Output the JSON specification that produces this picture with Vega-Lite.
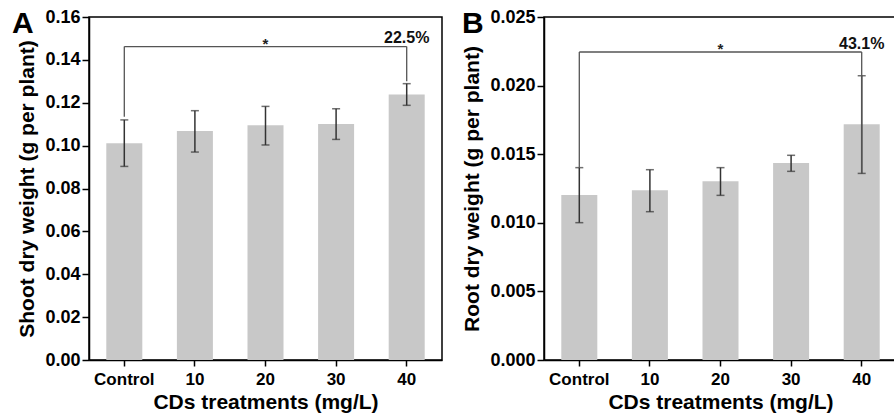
{
  "$schema": "https://vega.github.io/schema/vega-lite/v6.json",
  "padding": {"left": 11, "top": 7, "right": 0, "bottom": 0},
  "spacing": 18,
  "background": "white",
  "config": {
    "font": "Liberation Sans",
    "view": {"stroke": "#000", "strokeWidth": 1.5},
    "axis": {
      "domainColor": "#000", "domainWidth": 1.5, "tickColor": "#000", "tickWidth": 1.5,
      "labelFont": "Liberation Sans", "labelFontSize": 17, "labelFontWeight": "bold", "labelColor": "#000",
      "titleFont": "Liberation Sans", "titleFontSize": 21, "titleFontWeight": "bold", "titleColor": "#000",
      "grid": false, "labelPadding": 2
    },
    "title": {"font": "Liberation Sans", "fontSize": 30, "fontWeight": "bold", "color": "#000", "anchor": "start", "frame": "group", "baseline": "alphabetic"}
  },
  "hconcat": [
    {
      "width": 353, "height": 343,
      "title": {"text": "A", "dx": -77, "offset": -31},
      "data": {"values": [
        {"t": "Control", "m": 0.1011, "lo": 0.0903, "hi": 0.1120},
        {"t": "10", "m": 0.1068, "lo": 0.0970, "hi": 0.1163},
        {"t": "20", "m": 0.1095, "lo": 0.1003, "hi": 0.1183},
        {"t": "30", "m": 0.1101, "lo": 0.1029, "hi": 0.1172},
        {"t": "40", "m": 0.1238, "lo": 0.1188, "hi": 0.1289}
      ]},
      "encoding": {
        "x": {"field": "t", "type": "nominal",
          "scale": {"domain": ["Control","10","20","30","40"], "paddingInner": 0.49, "paddingOuter": 0.245},
          "axis": {"title": "CDs treatments (mg/L)", "labelAngle": 0, "tickSize": 6, "labelPadding": 5, "titlePadding": 4}}
      },
      "layer": [
        {"mark": {"type": "bar", "color": "#c8c8c8"},
         "encoding": {"y": {"field": "m", "type": "quantitative",
           "scale": {"domain": [0, 0.16], "nice": false},
           "axis": {"title": "Shoot dry weight (g per plant)", "values": [0,0.01,0.02,0.03,0.04,0.05,0.06,0.07,0.08,0.09,0.1,0.11,0.12,0.13,0.14,0.15,0.16],
             "labelExpr": "round(datum.value*100) % 2 === 0 ? format(datum.value, '.2f') : ''",
             "labelFontSize": 18,
             "tickSize": {"condition": {"test": "round(datum.value*100) % 2 === 0", "value": 7}, "value": 3},
             "titlePadding": 7}}}},
        {"mark": {"type": "rule", "color": "#333", "strokeWidth": 1.5},
         "encoding": {"y": {"field": "lo", "type": "quantitative"}, "y2": {"field": "hi"}}},
        {"mark": {"type": "tick", "color": "#333", "thickness": 1.5, "size": 8},
         "encoding": {"y": {"field": "lo", "type": "quantitative"}}},
        {"mark": {"type": "tick", "color": "#333", "thickness": 1.5, "size": 8},
         "encoding": {"y": {"field": "hi", "type": "quantitative"}}},
        {"data": {"values": [
          {"a": "Control", "b": "40", "y": 0.1462, "y2": 0.1462},
          {"a": "Control", "b": "Control", "y": 0.1462, "y2": 0.1135},
          {"a": "40", "b": "40", "y": 0.1462, "y2": 0.1300}
         ]},
         "mark": {"type": "rule", "color": "#555", "strokeWidth": 1.3},
         "encoding": {"x": {"field": "a", "type": "nominal"}, "x2": {"field": "b"},
           "y": {"field": "y", "type": "quantitative"}, "y2": {"field": "y2"}}},
        {"data": {"values": [
          {"a": "20", "y": 0.1462, "s": "*"}
         ]},
         "mark": {"type": "text", "fontSize": 15, "fontWeight": "bold", "baseline": "alphabetic", "dy": 2, "color": "#222"},
         "encoding": {"x": {"field": "a", "type": "nominal"}, "y": {"field": "y", "type": "quantitative"}, "text": {"field": "s"}}},
        {"data": {"values": [
          {"a": "40", "y": 0.1502, "s": "22.5%"}
         ]},
         "mark": {"type": "text", "fontSize": 16, "fontWeight": "bold", "baseline": "middle", "color": "#111"},
         "encoding": {"x": {"field": "a", "type": "nominal"}, "y": {"field": "y", "type": "quantitative"}, "text": {"field": "s"}}}
      ]
    },
    {
      "width": 353, "height": 343,
      "title": {"text": "B", "dx": -82, "offset": -31},
      "data": {"values": [
        {"t": "Control", "m": 0.01203, "lo": 0.01001, "hi": 0.01402},
        {"t": "10", "m": 0.01237, "lo": 0.01081, "hi": 0.01387},
        {"t": "20", "m": 0.01302, "lo": 0.0120, "hi": 0.01402},
        {"t": "30", "m": 0.01436, "lo": 0.01375, "hi": 0.01492},
        {"t": "40", "m": 0.01718, "lo": 0.0136, "hi": 0.02072}
      ]},
      "encoding": {
        "x": {"field": "t", "type": "nominal",
          "scale": {"domain": ["Control","10","20","30","40"], "paddingInner": 0.49, "paddingOuter": 0.245},
          "axis": {"title": "CDs treatments (mg/L)", "labelAngle": 0, "tickSize": 6, "labelPadding": 5, "titlePadding": 4}}
      },
      "layer": [
        {"mark": {"type": "bar", "color": "#c8c8c8"},
         "encoding": {"y": {"field": "m", "type": "quantitative",
           "scale": {"domain": [0, 0.025], "nice": false},
           "axis": {"title": "Root dry weight (g per plant)", "values": [0,0.0025,0.005,0.0075,0.01,0.0125,0.015,0.0175,0.02,0.0225,0.025],
             "labelExpr": "round(datum.value*10000) % 50 === 0 ? format(datum.value, '.3f') : ''",
             "labelFontSize": 18,
             "tickSize": {"condition": {"test": "round(datum.value*10000) % 50 === 0", "value": 7}, "value": 3},
             "titlePadding": 7}}}},
        {"mark": {"type": "rule", "color": "#333", "strokeWidth": 1.5},
         "encoding": {"y": {"field": "lo", "type": "quantitative"}, "y2": {"field": "hi"}}},
        {"mark": {"type": "tick", "color": "#333", "thickness": 1.5, "size": 8},
         "encoding": {"y": {"field": "lo", "type": "quantitative"}}},
        {"mark": {"type": "tick", "color": "#333", "thickness": 1.5, "size": 8},
         "encoding": {"y": {"field": "hi", "type": "quantitative"}}},
        {"data": {"values": [
          {"a": "Control", "b": "40", "y": 0.02245, "y2": 0.02245},
          {"a": "Control", "b": "Control", "y": 0.02245, "y2": 0.01402},
          {"a": "40", "b": "40", "y": 0.02245, "y2": 0.0136}
         ]},
         "mark": {"type": "rule", "color": "#555", "strokeWidth": 1.3},
         "encoding": {"x": {"field": "a", "type": "nominal"}, "x2": {"field": "b"},
           "y": {"field": "y", "type": "quantitative"}, "y2": {"field": "y2"}}},
        {"data": {"values": [
          {"a": "20", "y": 0.02245, "s": "*"}
         ]},
         "mark": {"type": "text", "fontSize": 15, "fontWeight": "bold", "baseline": "alphabetic", "dy": 2, "color": "#222"},
         "encoding": {"x": {"field": "a", "type": "nominal"}, "y": {"field": "y", "type": "quantitative"}, "text": {"field": "s"}}},
        {"data": {"values": [
          {"a": "40", "y": 0.02303, "s": "43.1%"}
         ]},
         "mark": {"type": "text", "fontSize": 16, "fontWeight": "bold", "baseline": "middle", "color": "#111"},
         "encoding": {"x": {"field": "a", "type": "nominal"}, "y": {"field": "y", "type": "quantitative"}, "text": {"field": "s"}}}
      ]
    }
  ]
}
